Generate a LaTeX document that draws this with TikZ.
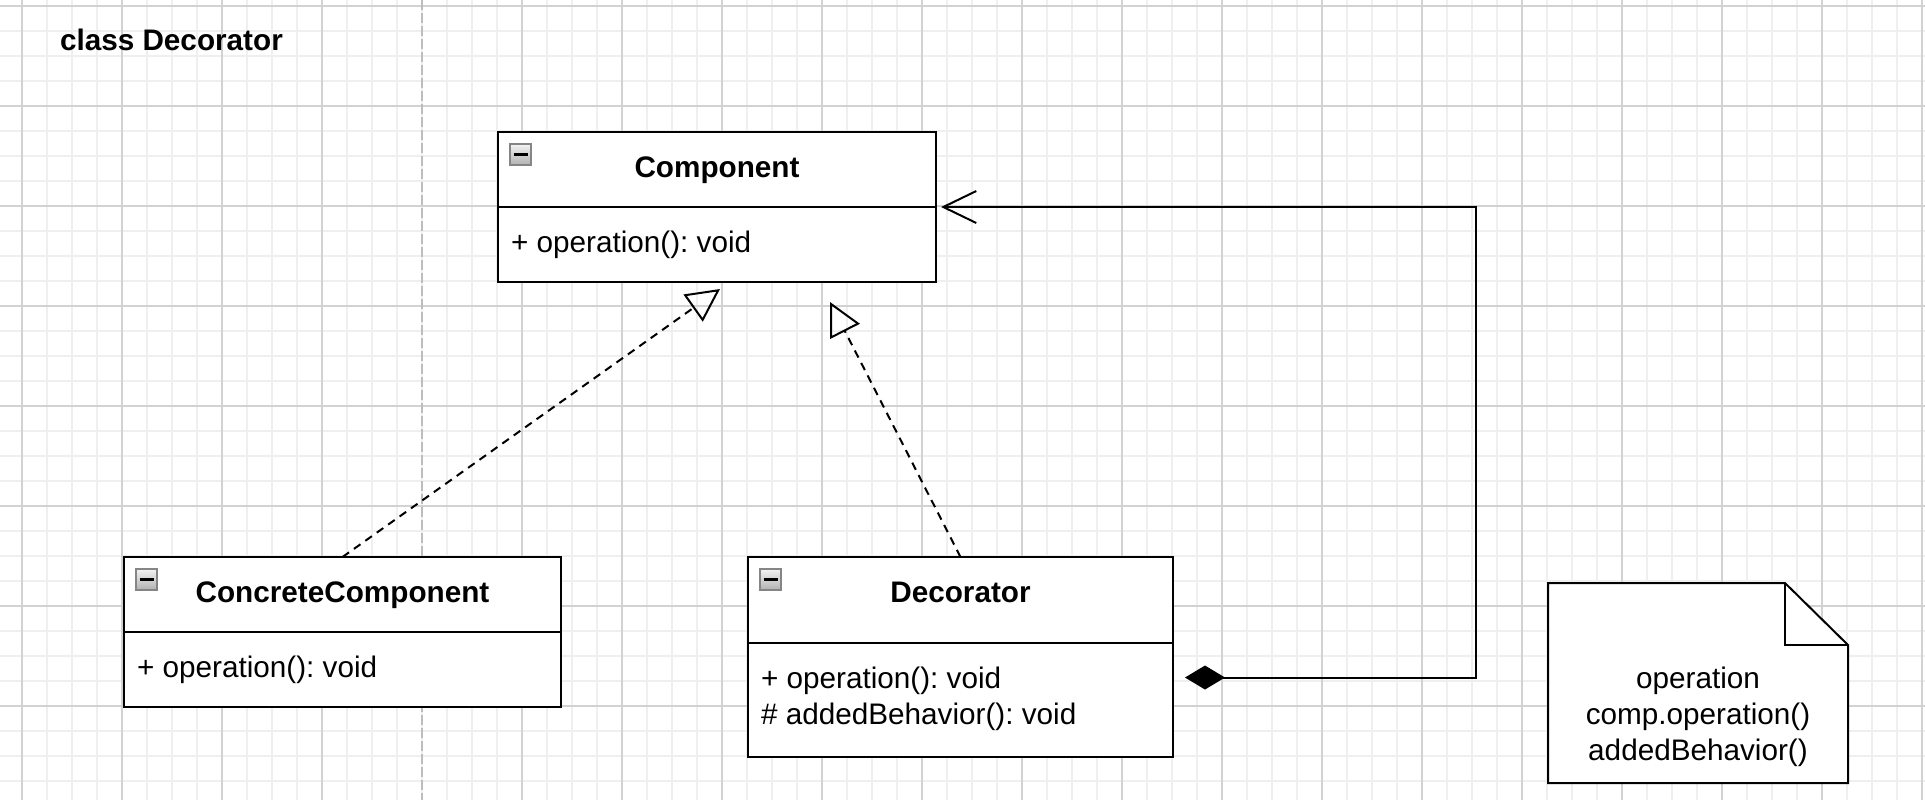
\documentclass[tikz,border=0pt]{standalone}
\usepackage{fontspec}
\setmainfont{Liberation Sans}
\usetikzlibrary{arrows.meta}
\definecolor{gmajor}{HTML}{D2D2D2}
\definecolor{gminor}{HTML}{EFEFEF}
\definecolor{gpage}{HTML}{BDBDBD}
\definecolor{icongray}{HTML}{858585}
\definecolor{iconlight}{HTML}{F2F2F2}
\definecolor{icondark}{HTML}{B0B0B0}
\newcommand\umlfont{\fontsize{14.85pt}{18pt}\selectfont}
\frenchspacing
\begin{document}
\begin{tikzpicture}[x=0.5pt,y=-0.5pt,
  every node/.style={inner sep=0pt, outer sep=0pt},
  txt/.style={font=\umlfont, anchor=base west},
  ttl/.style={font=\umlfont\bfseries, anchor=base},
  classbox/.style={draw=black, line width=1.1pt, fill=white, rectangle},
  icon/.style={draw=icongray, line width=0.8pt, top color=iconlight, bottom color=icondark,
    minimum size=10.5pt, rectangle,
    path picture={\draw[line width=1.3pt, black] ([xshift=-3.6pt]path picture bounding box.center) -- ([xshift=3.6pt]path picture bounding box.center);}},
  realize/.style={draw=black, line width=1pt, dash pattern=on 4pt off 3pt,
    -{Triangle[open, length=16.5pt, width=16.5pt]}},
  compo/.style={draw=black, line width=1pt,
    {Diamond[length=20pt, width=12pt]}-{Straight Barb[length=16.5pt, width=16pt]}},
  notebox/.style={draw=black, line width=1pt, fill=white},
  gminorline/.style={draw=gminor, line width=0.7pt},
  gmajorline/.style={draw=gmajor, line width=0.9pt},
  gpageline/.style={draw=gpage, line width=0.9pt, dash pattern=on 5pt off 1.5pt}
]
\useasboundingbox (0,0) rectangle (1925,800);
\fill[white] (0,0) rectangle (1925,800);
% grid
\foreach \x in {-3,22,...,1922} \draw[gminorline] (\x,0) -- (\x,800);
\foreach \y in {6,31,...,781} \draw[gminorline] (0,\y) -- (1925,\y);
\foreach \x in {22,122,222,322,522,622,722,822,922,1022,1122,1222,1322,1422,1522,1622,1722,1822,1922} \draw[gmajorline] (\x,0) -- (\x,800);
\foreach \y in {6,106,...,706} \draw[gmajorline] (0,\y) -- (1925,\y);
\draw[gpageline] (422,0) -- (422,800);

% title
\node[font=\umlfont\bfseries, anchor=base west] (title) at (60,50) {class Decorator};

% Component
\node[classbox, minimum width=219pt, minimum height=37.5pt] (comph) at (717,169.5) {};
\node[classbox, minimum width=219pt, minimum height=37.5pt] (compb) at (717,244.5) {};
\node[ttl] (compt) at (717,177) {Component};
\node[txt] (compo) at (511,252) {+ operation(): void};
\node[icon] (compi) at (520.75,154.75) {};

% ConcreteComponent
\node[classbox, minimum width=218.5pt, minimum height=37.5pt] (cch) at (342.5,594.5) {};
\node[classbox, minimum width=218.5pt, minimum height=37.5pt] (ccb) at (342.5,669.5) {};
\node[ttl] (cct) at (342.5,602) {ConcreteComponent};
\node[txt] (cco) at (137,677.5) {+ operation(): void};
\node[icon] (cci) at (146.75,579.75) {};

% Decorator
\node[classbox, minimum width=212.5pt, minimum height=43pt] (dech) at (960.5,600) {};
\node[classbox, minimum width=212.5pt, minimum height=57pt] (decb) at (960.5,700) {};
\node[ttl] (dect) at (960.5,602) {Decorator};
\node[txt] (deco1) at (761,688) {+ operation(): void};
\node[txt] (deco2) at (761,724) {\# addedBehavior(): void};
\node[icon] (deci) at (770.75,579.75) {};

% realization connectors
\coordinate (tip1) at (720,289);
\coordinate (tip2) at (830,302);
\draw[realize] (cch.north) -- (tip1);
\draw[realize] (dech.north) -- (tip2);

% composition connector
\coordinate (dstart) at (1185,677.5);
\coordinate (bend1) at (1476,677.5);
\coordinate (bend2) at (1476,207);
\coordinate (cend) at (941,207);
\draw[compo] (dstart) -- (bend1) -- (bend2) -- (cend);

% note
\draw[notebox] (1548,583) -- (1785,583) -- (1848,645) -- (1848,783) -- (1548,783) -- cycle;
\draw[draw=black, line width=1pt] (1785,583) -- (1785,645) -- (1848,645);
\node[font=\umlfont, anchor=base] (n1) at (1698,688) {operation};
\node[font=\umlfont, anchor=base] (n2) at (1698,724) {comp.operation()};
\node[font=\umlfont, anchor=base] (n3) at (1698,760) {addedBehavior()};
\end{tikzpicture}
\end{document}
